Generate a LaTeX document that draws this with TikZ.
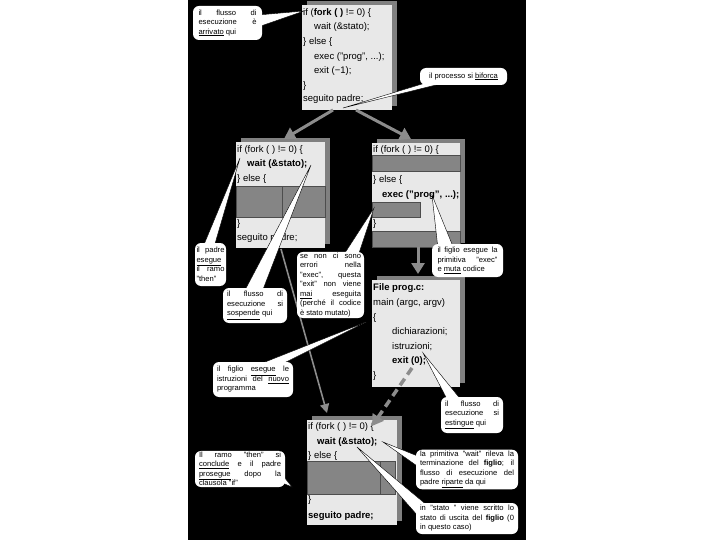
\documentclass[tikz,border=0pt]{standalone}
\usepackage{fontspec}
\setmainfont{Liberation Sans}
\usetikzlibrary{arrows.meta}
\definecolor{boxfill}{HTML}{E8E8E8}
\definecolor{shadowgray}{HTML}{808080}
\definecolor{darkfill}{HTML}{858585}
\definecolor{darkline}{HTML}{4D4D4D}
\definecolor{arrowgray}{HTML}{8C8C8C}
\newcommand\codefont{\fontsize{9.5}{11}\selectfont}
\newcommand\callfont{\fontsize{7.6}{9.5}\selectfont}
\begin{document}
\begin{tikzpicture}[x=1pt,y=-1pt,
 codebox/.style={fill=boxfill, inner sep=0pt, draw=none},
 shadowbox/.style={fill=shadowgray, inner sep=0pt, draw=none},
 code/.style={anchor=west, inner sep=0pt, font=\codefont, text height=7pt, text depth=2pt},
 dark/.style={fill=darkfill, draw=darkline, line width=0.6pt},
 callout/.style={fill=white, rounded corners=6pt, inner xsep=1pt, inner ysep=1pt, align=justify, font=\callfont},
 wedge/.style={fill=white, draw=black, line width=0.4pt},
 flow/.style={draw=arrowgray, line width=3pt, -{Triangle[length=11pt,width=13pt]}},
 thinflow/.style={draw=arrowgray, line width=1.6pt, -{Triangle[length=9pt,width=9pt]}},
 dashflow/.style={draw=arrowgray, line width=3.5pt, dash pattern=on 8pt off 5pt, -{Triangle[length=11pt,width=13pt]}}
]
\useasboundingbox (0,0) rectangle (720,540);
\fill[white] (0,0) rectangle (720,540);
\fill[black] (188,0) rectangle (526,540);

% ---- code boxes
\node[shadowbox, minimum width=90pt, minimum height=105pt] (s1) at (352,53.5) {};
\node[codebox, minimum width=90pt, minimum height=105pt] (b1) at (347,57.5) {};
\node[shadowbox, minimum width=89pt, minimum height=106pt] (s2) at (285.5,191) {};
\node[codebox, minimum width=89pt, minimum height=106pt] (b2) at (280.5,195) {};
\node[shadowbox, minimum width=88pt, minimum height=104pt] (s3) at (421,191) {};
\node[codebox, minimum width=88pt, minimum height=104pt] (b3) at (416,195) {};
\node[shadowbox, minimum width=88pt, minimum height=107pt] (s4) at (421,329.5) {};
\node[codebox, minimum width=88pt, minimum height=107pt] (b4) at (416,333.5) {};
\node[shadowbox, minimum width=90pt, minimum height=105pt] (s5) at (357,468.5) {};
\node[codebox, minimum width=90pt, minimum height=105pt] (b5) at (352,472.5) {};

% box 1
\node[code] (b1t1) at (303,13) {if (\textbf{fork ( )} != 0) \{};
\node[code] (b1t2) at (314,27) {wait (\&stato);};
\node[code] (b1t3) at (303,42) {\} else \{};
\node[code] (b1t4) at (314,57) {exec ("prog", ...);};
\node[code] (b1t5) at (314,71) {exit (−1);};
\node[code] (b1t6) at (303,86) {\}};
\node[code] (b1t7) at (303,99) {seguito padre;};

% box 2
\node[code] (b2t1) at (237,150) {if (fork ( ) != 0) \{};
\node[code] (b2t2) at (247,164) {\textbf{wait (\&stato);}};
\node[code] (b2t3) at (237,179) {\} else \{};
\filldraw[dark] (236,186) rectangle (282,217);
\filldraw[dark] (282,186) rectangle (325,217);
\node[code] (b2t4) at (237,224) {\}};
\node[code] (b2t5) at (237,238) {seguito padre;};

% box 3
\node[code] (b3t1) at (373,150) {if (fork ( ) != 0) \{};
\filldraw[dark] (372,155) rectangle (460,171);
\node[code] (b3t2) at (373,180) {\} else \{};
\node[code] (b3t3) at (382,195) {\textbf{exec ("prog", ...);}};
\filldraw[dark] (372,202) rectangle (420,217);
\node[code] (b3t4) at (373,224) {\}};
\filldraw[dark] (372,231) rectangle (460,247);

% box 4
\node[code] (b4t1) at (373,288) {\textbf{File prog.c:}};
\node[code] (b4t2) at (373,303) {main (argc, argv)};
\node[code] (b4t3) at (373,318) {\{};
\node[code] (b4t4) at (392,332) {dichiarazioni;};
\node[code] (b4t5) at (392,347) {istruzioni;};
\node[code] (b4t6) at (392,361) {\textbf{exit (0);}};
\node[code] (b4t7) at (373,376) {\}};

% box 5
\node[code] (b5t1) at (308,427) {if (fork ( ) != 0) \{};
\node[code] (b5t2) at (317,442) {\textbf{wait (\&stato);}};
\node[code] (b5t3) at (308,456) {\} else \{};
\filldraw[dark] (307,461) rectangle (380,494);
\filldraw[dark] (380,461) rectangle (395,494);
\node[code] (b5t4) at (308,500) {\}};
\node[code] (b5t5) at (308,516) {\textbf{seguito padre;}};

% ---- arrows
\coordinate (a1s) at (333,110); \coordinate (a1e) at (284,139);
\coordinate (a2s) at (356,110); \coordinate (a2e) at (411,139);
\coordinate (a3s) at (418,247); \coordinate (a3e) at (418,274);
\coordinate (a4s) at (281,249); \coordinate (a4e) at (327,413);
\coordinate (a5s) at (412,368); \coordinate (a5e) at (372,426);
\draw[flow] (a1s) -- (a1e);
\draw[flow] (a2s) -- (a2e);
\draw[flow] (a3s) -- (a3e);
\draw[thinflow] (a4s) -- (a4e);
\draw[dashflow] (a5s) -- (a5e);

% ---- callouts
\coordinate (t1) at (304,11);
\filldraw[wedge] (t1) -- (258,15) -- (258,27) -- cycle;
\node[callout, minimum width=69pt, minimum height=34pt, text width=58pt] (c1) at (227.5,23)
 {il flusso di\linebreak esecuzione è\linebreak \underline{arrivato} qui};

\coordinate (t2) at (343,108);
\filldraw[wedge] (t2) -- (432,81) -- (452,81) -- cycle;
\node[callout, minimum width=87pt, minimum height=17pt] (c2) at (463.5,76.5)
 {il processo si \underline{biforca}};

\coordinate (t3) at (240,158);
\filldraw[wedge] (t3) -- (203,247) -- (214,247) -- cycle;
\node[callout, minimum width=31pt, minimum height=43pt, text width=28pt] (c3) at (210.5,264.5)
 {il padre\linebreak \underline{esegue}\linebreak il ramo\linebreak "then"};

\coordinate (t4) at (311,165);
\filldraw[wedge] (t4) -- (244,292) -- (262,292) -- cycle;
\node[callout, minimum width=64pt, minimum height=35pt, text width=56pt] (c4) at (255,305.5)
 {il flusso di\linebreak esecuzione si\linebreak \underline{sospende} qui};

\coordinate (t5) at (374,208);
\filldraw[wedge] (t5) -- (343,256) -- (358,256) -- cycle;
\node[callout, minimum width=67pt, minimum height=66pt, text width=61pt] (c5) at (330.5,285)
 {se non ci sono\linebreak errori nella\linebreak "exec", questa\linebreak "exit" non viene\linebreak \underline{mai} eseguita\linebreak (perché il codice\linebreak è stato mutato)};

\coordinate (t6) at (432,195);
\filldraw[wedge] (t6) -- (438,249) -- (454,249) -- cycle;
\node[callout, minimum width=71pt, minimum height=33pt, text width=60pt] (c6) at (467.5,260.5)
 {il figlio esegue la\linebreak primitiva \ \ "exec"\linebreak e \underline{muta} codice};

\coordinate (t7) at (366,322);
\filldraw[wedge] (t7) -- (255,366) -- (278,366) -- cycle;
\node[callout, minimum width=80pt, minimum height=35pt, text width=72pt] (c7) at (253,379.5)
 {il figlio \underline{esegue} le\linebreak istruzioni del \underline{nuovo}\linebreak programma};

\coordinate (t8) at (423,353);
\filldraw[wedge] (t8) -- (448,401) -- (462,401) -- cycle;
\node[callout, minimum width=62pt, minimum height=36pt, text width=54pt] (c8) at (472,415)
 {il flusso di\linebreak esecuzione si\linebreak \underline{estingue} qui};

\coordinate (t9) at (383,442);
\filldraw[wedge] (t9) -- (420,457) -- (420,468) -- cycle;
\node[callout, minimum width=102pt, minimum height=33pt, text width=94pt] (c9) at (467,469.5)
 {la primitiva "wait" rileva la\linebreak terminazione del \textbf{figlio}; il\linebreak flusso di esecuzione del\linebreak padre \underline{riparte} da qui};

\coordinate (t10) at (357,447);
\filldraw[wedge] (t10) -- (428,506) -- (418,516) -- cycle;
\node[callout, minimum width=102pt, minimum height=31pt, text width=94pt] (c10) at (467,518.5)
 {in "stato " viene scritto lo\linebreak stato di uscita del \textbf{figlio} (0\linebreak in questo caso)};

\coordinate (t11) at (292,487);
\filldraw[wedge] (t11) -- (280,472) -- (280,482) -- cycle;
\node[callout, minimum width=90pt, minimum height=34pt, text width=82pt] (c11) at (240,469)
 {Il ramo "then" si\linebreak \underline{conclude} e il padre\linebreak \underline{prosegue} dopo la\linebreak clausola "if"};
\end{tikzpicture}
\end{document}
